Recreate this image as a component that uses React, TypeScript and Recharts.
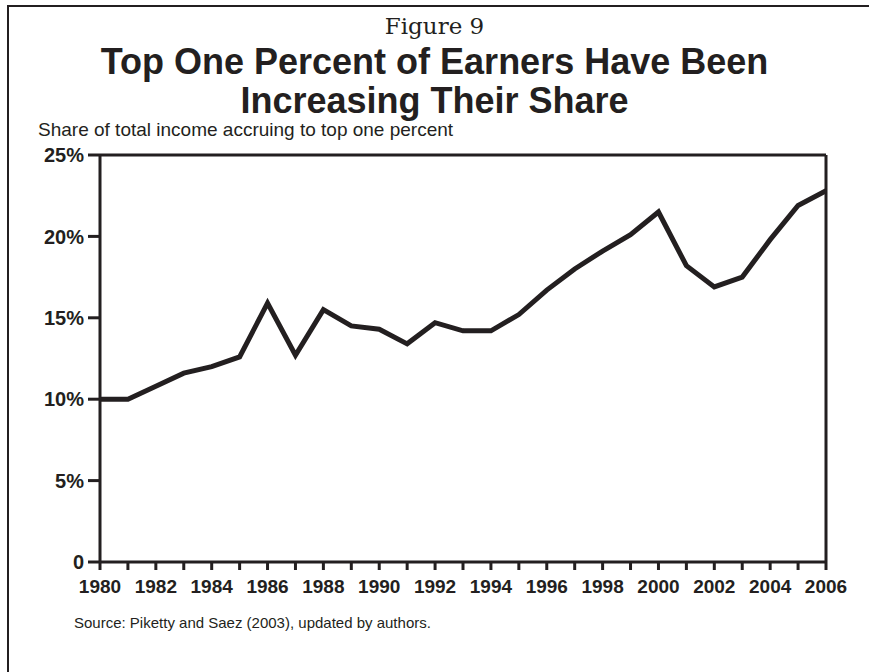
import React from 'react';
import { LineChart, Line, XAxis, YAxis, ReferenceLine } from 'recharts';

const years = [
  1980, 1981, 1982, 1983, 1984, 1985, 1986, 1987, 1988, 1989, 1990, 1991, 1992,
  1993, 1994, 1995, 1996, 1997, 1998, 1999, 2000, 2001, 2002, 2003, 2004, 2005, 2006,
];
const topShare = [
  10.0, 10.0, 10.8, 11.6, 12.0, 12.6, 15.9, 12.7, 15.5, 14.5, 14.3, 13.4, 14.7,
  14.2, 14.2, 15.2, 16.7, 18.0, 19.1, 20.1, 21.5, 18.2, 16.9, 17.5, 19.8, 21.9, 22.8,
];
const yTicks = [0, 5, 10, 15, 20, 25];

const data = years.map((year, i) => ({ year, share: topShare[i] }));

const INK = '#231f20';
const SANS = '"Liberation Sans", Arial, Helvetica, sans-serif';

const YearTick = (props: any) => {
  const { x, y, payload } = props;
  if (payload.value % 2 !== 0) return null;
  return (
    <text x={x} y={y} dy={21} textAnchor="middle" fill={INK} fontSize={19} fontWeight="bold" fontFamily={SANS}>
      {payload.value}
    </text>
  );
};

const App = () => {
  return (
    <div style={{ position: 'absolute', left: 0, top: 0, width: 869, height: 672, background: '#fff', overflow: 'hidden' }}>
      {/* frame: top and left edges only */}
      <div style={{ position: 'absolute', left: 7, top: 5, width: 870, height: 700, borderTop: `2px solid ${INK}`, borderLeft: `2px solid ${INK}` }} />
      <div style={{ position: 'absolute', left: 0, width: 869, top: 13, textAlign: 'center', fontFamily: '"DejaVu Serif", serif', fontSize: 23, color: INK, lineHeight: '26px' }}>
        Figure 9
      </div>
      <div style={{ position: 'absolute', left: 0, width: 869, top: 42, textAlign: 'center', fontFamily: SANS, fontWeight: 'bold', fontSize: 36, color: INK, lineHeight: '39px' }}>
        Top One Percent of Earners Have Been
        <br />
        Increasing Their Share
      </div>
      <div style={{ position: 'absolute', left: 38, top: 119, fontFamily: SANS, fontSize: 19, color: INK, lineHeight: '22px' }}>
        Share of total income accruing to top one percent
      </div>
      <div style={{ position: 'absolute', left: 74, top: 614, fontFamily: SANS, fontSize: 15, color: INK, lineHeight: '18px' }}>
        Source: Piketty and Saez (2003), updated by authors.
      </div>
      <div style={{ position: 'absolute', left: 0, top: 0 }}>
        <LineChart width={869} height={672} data={data} margin={{ top: 155, right: 43, bottom: 80, left: 40 }}>
          <XAxis
            dataKey="year"
            type="number"
            domain={[1980, 2006]}
            ticks={years}
            interval={0}
            height={30}
            axisLine={{ stroke: INK, strokeWidth: 3 }}
            tickLine={{ stroke: INK, strokeWidth: 3 }}
            tickSize={8}
            tickMargin={2}
            tick={<YearTick />}
          />
          <YAxis
            type="number"
            domain={[0, 25]}
            ticks={yTicks}
            width={60}
            axisLine={{ stroke: INK, strokeWidth: 3 }}
            tickLine={{ stroke: INK, strokeWidth: 3 }}
            tickSize={12}
            tickMargin={4}
            tickFormatter={(v: number) => (v === 0 ? '0' : `${v}%`)}
            tick={{ fill: INK, fontSize: 20, fontWeight: 'bold', fontFamily: SANS }}
          />
          <ReferenceLine y={25} stroke={INK} strokeWidth={3} />
          <ReferenceLine x={2006} stroke={INK} strokeWidth={3} />
          <Line
            type="linear"
            dataKey="share"
            stroke={INK}
            strokeWidth={5}
            dot={false}
            isAnimationActive={false}
          />
        </LineChart>
      </div>
    </div>
  );
};

export default App;
